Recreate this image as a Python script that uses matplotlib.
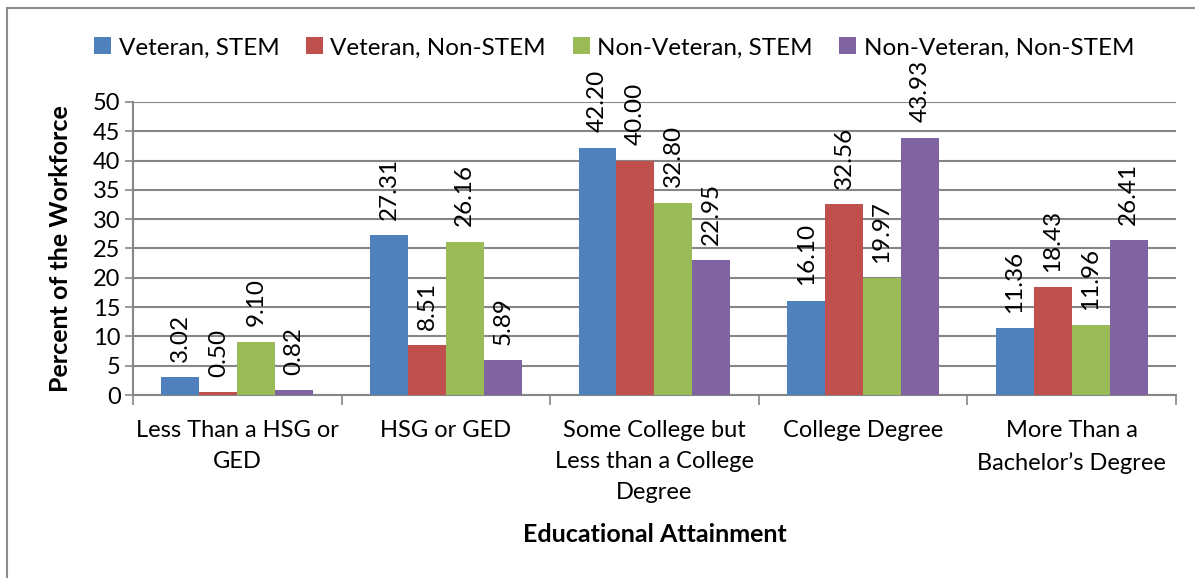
import numpy as np
import matplotlib
matplotlib.use("Agg")
import matplotlib.pyplot as plt
from matplotlib.patches import Rectangle

plt.rcParams['font.family'] = ['Lato', 'DejaVu Sans']

categories = ["Less Than a HSG or\nGED", "HSG or GED",
              "Some College but\nLess than a College\nDegree",
              "College Degree", "More Than a\nBachelor\u2019s Degree"]
series = ["Veteran, STEM", "Veteran, Non-STEM", "Non-Veteran, STEM", "Non-Veteran, Non-STEM"]
vet_stem = [3.02, 27.31, 42.20, 16.10, 11.36]
vet_nonstem = [0.50, 8.51, 40.00, 32.56, 18.43]
nonvet_stem = [9.10, 26.16, 32.80, 19.97, 11.96]
nonvet_nonstem = [0.82, 5.89, 22.95, 43.93, 26.41]
colors = ["#4F81BD", "#C0504D", "#9BBB59", "#8064A2"]

grey = "#868686"

fig = plt.figure(figsize=(11.95, 5.78), dpi=100)
ax = fig.add_axes([0.1113, 0.3166, 0.8727, 0.507])

x = np.arange(len(categories))
w = 0.182
values = [vet_stem, vet_nonstem, nonvet_stem, nonvet_nonstem]
for i, (name, vals, c) in enumerate(zip(series, values, colors)):
    pos = x + (i - 1.5) * w
    bars = ax.bar(pos, vals, w, color=c, label=name, zorder=3)
    for b, v in zip(bars, vals):
        ax.annotate("%.2f" % v, (b.get_x() + b.get_width() / 2, v),
                    xytext=(0, 11), textcoords="offset points",
                    rotation=90, ha="center", va="bottom", fontsize=17.5)

ax.set_xlim(-0.5, len(categories) - 0.5)
ax.set_ylim(0, 50)
ax.set_yticks(range(0, 51, 5))
ax.tick_params(axis="y", labelsize=17, length=6, color=grey, width=1.2, pad=3)
ax.set_xticks(x)
ax.set_xticklabels(categories, fontsize=17, linespacing=1.6)
ax.tick_params(axis="x", length=0, pad=18)
ax.set_xticks(np.arange(-0.5, len(categories), 1), minor=True)
ax.tick_params(axis="x", which="minor", length=7, color=grey, width=1.2)
ax.yaxis.grid(True, color=grey, linewidth=1.5, zorder=0)
ax.set_axisbelow(True)
for s in ["top", "right"]:
    ax.spines[s].set_visible(False)
for s in ["left", "bottom"]:
    ax.spines[s].set_color(grey)
    ax.spines[s].set_linewidth(1.5)

ax.set_ylabel("Percent of the Workforce", fontsize=18, fontweight="bold", labelpad=15)
ax.set_xlabel("Educational Attainment", fontsize=18, fontweight="bold", labelpad=14)

fig.legend(loc="center", bbox_to_anchor=(0.514, 0.917), ncol=4, frameon=False,
           fontsize=17.5, handlelength=0.7, handleheight=0.7, handletextpad=0.3,
           columnspacing=1.1)

fig.patches.append(Rectangle((7 / 1195, -0.1), 1.2, (578 - 8) / 578 + 0.1,
                             transform=fig.transFigure, fill=False,
                             edgecolor="#8c8c8c", linewidth=1.5))

fig.savefig("out.png", dpi=100)
